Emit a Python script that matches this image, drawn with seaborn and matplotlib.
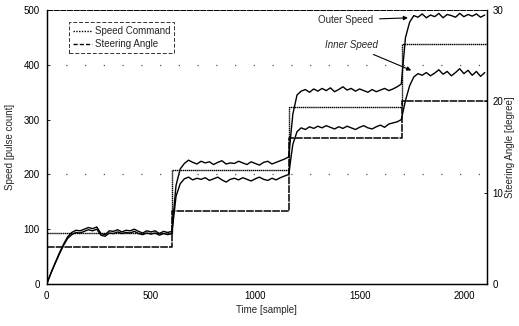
import numpy as np
import pandas as pd
import matplotlib
matplotlib.use("Agg")
import matplotlib.pyplot as plt
import seaborn as sns
from matplotlib.lines import Line2D

# ---------------- data ----------------
time = np.arange(0, 2101, 20)

outer_speed = [
    0, 20, 38, 56, 72, 86, 94, 98, 97, 100,
    103, 101, 104, 92, 90, 97, 96, 99, 95, 98,
    97, 100, 96, 93, 97, 95, 97, 92, 96, 94,
    96, 180, 210, 220, 226, 222, 219, 224, 221, 223,
    218, 222, 225, 219, 221, 220, 224, 221, 218, 223,
    220, 217, 222, 224, 219, 222, 225, 228, 232, 310,
    345, 352, 355, 350, 356, 352, 357, 353, 358, 351,
    355, 360, 354, 357, 352, 356, 353, 350, 355, 351,
    354, 357, 353, 356, 360, 365, 450, 478, 490, 487,
    493, 486, 491, 488, 494, 486, 492, 490, 487, 494,
    488, 492, 489, 493, 487, 491,
]

inner_speed = [
    0, 19, 37, 54, 70, 83, 90, 94, 93, 96,
    99, 97, 100, 89, 87, 93, 92, 95, 92, 94,
    93, 96, 92, 90, 93, 91, 93, 89, 92, 90,
    92, 160, 183, 192, 195, 190, 193, 191, 194, 189,
    192, 195, 190, 186, 191, 193, 190, 194, 191, 188,
    192, 195, 191, 189, 193, 190, 194, 197, 200, 255,
    278, 285, 282, 287, 284, 288, 285, 289, 286, 283,
    287, 284, 288, 285, 282, 286, 289, 285, 283, 287,
    290, 286, 292, 294, 296, 300, 335, 362, 378, 384,
    381, 386, 380, 385, 391, 383, 388, 380, 386, 393,
    384, 390, 381, 388, 379, 386,
]

step_time = [0, 600, 1160, 1705, 2110]
speed_command = [93, 208, 323, 438, 438]
steering_angle = [4, 8, 16, 20, 20]

speed_df = pd.DataFrame({"time": time, "Outer Speed": outer_speed, "Inner Speed": inner_speed})
cmd_df = pd.DataFrame({"time": step_time, "command": speed_command, "angle": steering_angle})

# ---------------- figure ----------------
sns.set_theme(style="white")
plt.rcParams["font.family"] = ["Liberation Sans", "DejaVu Sans"]

fig = plt.figure(figsize=(5.19, 3.26), dpi=100)
ax = fig.add_axes([0.090, 0.129, 0.848, 0.840])
ax2 = ax.twinx()

sns.lineplot(data=speed_df, x="time", y="Outer Speed", ax=ax, color="black", lw=1.0)
sns.lineplot(data=speed_df, x="time", y="Inner Speed", ax=ax, color="black", lw=1.0)
ax.step(cmd_df["time"], cmd_df["command"], where="post", color="black",
        lw=1.0, linestyle=(0, (1, 0.4)))
ax.plot([0, 0], [0, speed_command[0]], color="black", lw=0.8, linestyle=(0, (1, 1.5)))
ax2.step(cmd_df["time"], cmd_df["angle"], where="post", color="black",
         lw=1.1, linestyle=(0, (5, 0.7)))

# sparse dotted grid
for yv in [200, 400]:
    ax.axhline(yv, color="#555555", lw=0.9, linestyle=(0, (1, 14)))

ax.set_xlim(0, 2110)
ax.set_ylim(0, 500)
ax2.set_ylim(0, 30)
ax.set_xticks([0, 500, 1000, 1500, 2000])
ax.set_yticks([0, 100, 200, 300, 400, 500])
ax2.set_yticks([0, 10, 20, 30])

fs = 7
ax.set_xlabel("Time [sample]", fontsize=fs, labelpad=3)
ax.set_ylabel("Speed [pulse count]", fontsize=fs, labelpad=6)
ax2.set_ylabel("Steering Angle [degree]", fontsize=fs, labelpad=1)
for a in (ax, ax2):
    a.tick_params(axis="both", labelsize=fs, direction="in", length=2, width=0.6,
                  colors="black", pad=5)
    for s in a.spines.values():
        s.set_color("black")
        s.set_linewidth(0.9)
    a.spines["top"].set_linestyle((0, (6, 2)))
    a.spines["top"].set_linewidth(0.6)
ax.tick_params(axis="y", right=False)
ax2.tick_params(axis="y", left=False, pad=4)

# annotations
ax.annotate("Outer Speed", xy=(1745, 486), xytext=(1435, 482), fontsize=fs,
            ha="center", va="center",
            arrowprops=dict(arrowstyle="-|>", color="black", lw=0.8, mutation_scale=6))
ax.annotate("Inner Speed", xy=(1760, 388), xytext=(1460, 436), fontsize=fs,
            ha="center", va="center", style="italic",
            arrowprops=dict(arrowstyle="-|>", color="black", lw=0.8, mutation_scale=6))

# legend
handles = [
    Line2D([], [], color="black", lw=1.0, linestyle=(0, (1, 1))),
    Line2D([], [], color="black", lw=1.0, linestyle=(0, (3, 1.5))),
]
leg = ax.legend(handles, ["Speed Command", "Steering Angle"], loc="upper left",
                bbox_to_anchor=(0.05, 0.955), fontsize=fs, frameon=True,
                fancybox=False, handlelength=2.0, handletextpad=0.3,
                borderpad=0.4, labelspacing=0.3, borderaxespad=0)
leg.get_frame().set_edgecolor("black")
leg.get_frame().set_linewidth(0.7)
leg.get_frame().set_linestyle((0, (4, 2)))

fig.savefig("out.png", dpi=100)
